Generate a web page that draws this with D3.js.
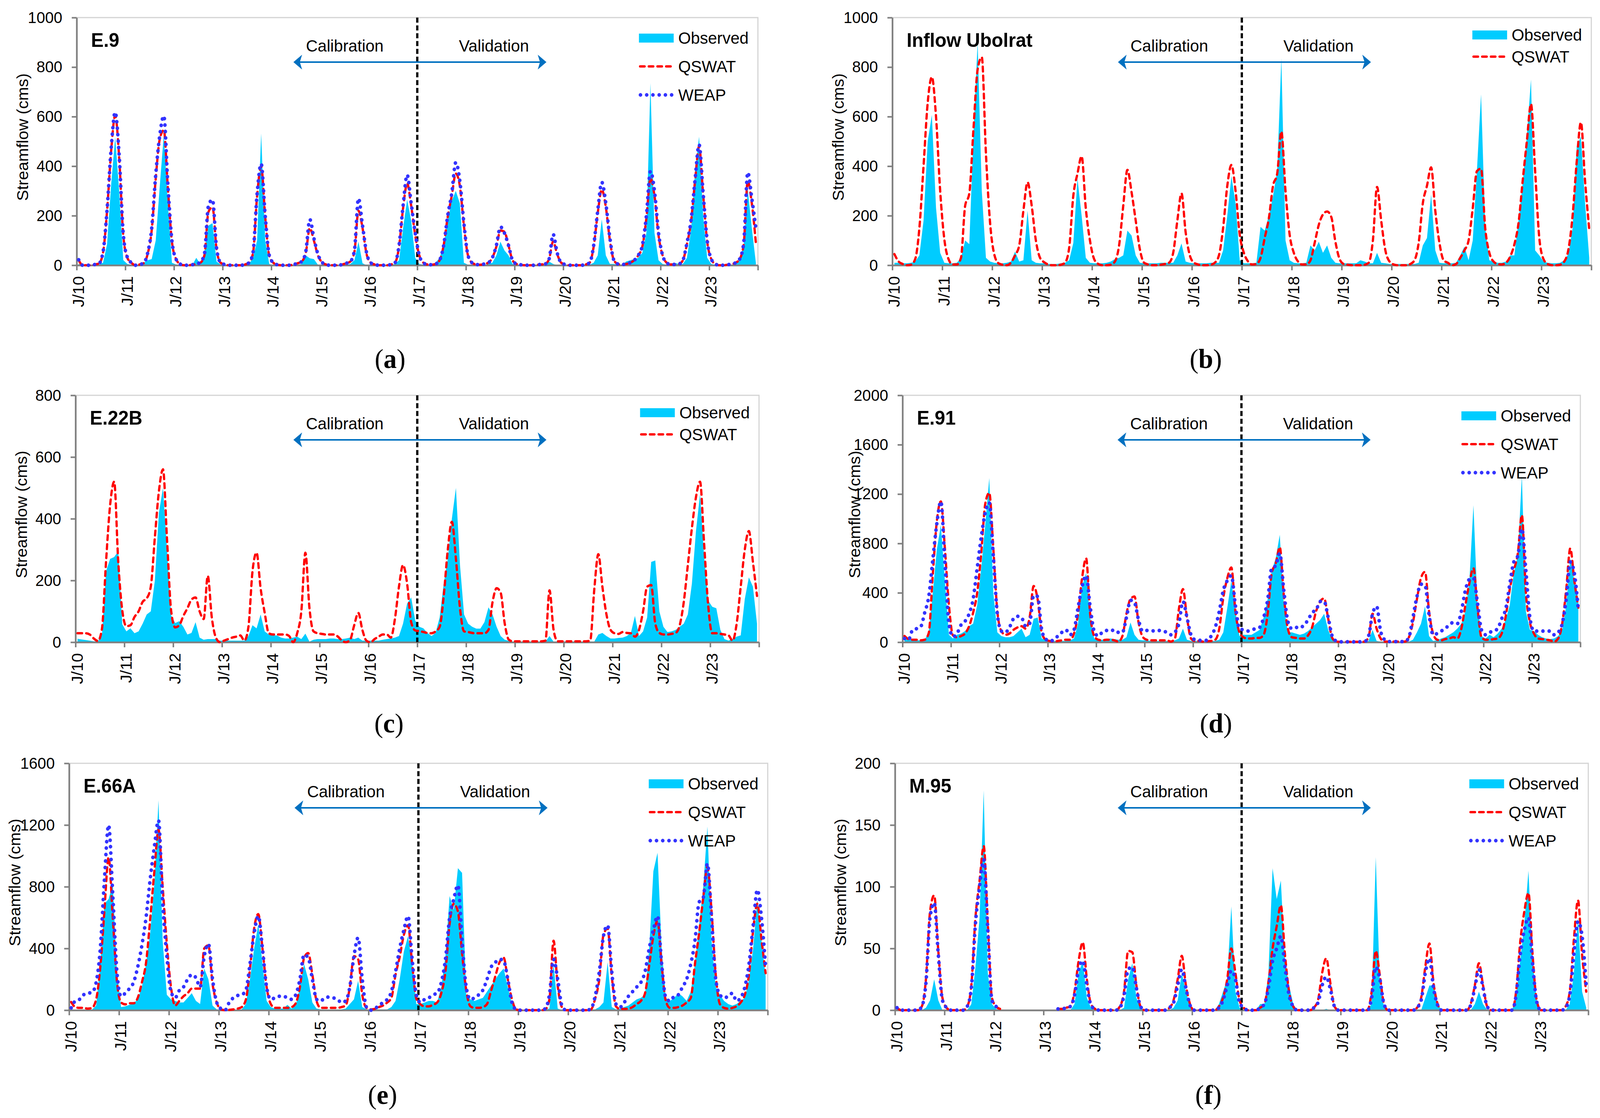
<!DOCTYPE html>
<html lang="en">
<head>
<meta charset="UTF-8">
<title>Observed vs simulated streamflow</title>
<script src="https://cdn.jsdelivr.net/npm/d3@7"></script>
<style>
  html, body { margin: 0; padding: 0; overflow: hidden; background: #fff; }
  svg { display: block; width: 100vw; height: 100vh; }
</style>
</head>
<body>
<svg id="chart" viewBox="0 0 4237 2862" preserveAspectRatio="none"></svg>
<script>
// ---- labels ----
const yearLabels = ["J/10","J/11","J/12","J/13","J/14","J/15","J/16","J/17","J/18","J/19","J/20","J/21","J/22","J/23"];
const stations = ["E.9", "Inflow Ubolrat", "E.22B", "E.91", "E.66A", "M.95"];
const subLabels = ["a", "b", "c", "d", "e", "f"];
const seriesNames = ["Observed", "QSWAT", "WEAP"];
const periodNames = ["Calibration", "Validation"];
const N = null; // months with no record (M.95, 2012-13)

// ---- monthly streamflow (cms), one row per year 2010..2023, Jan..Dec ----
const obsE9 = [
  [5,2,0,0,0,3,10,85,324,517,296,21],[5,2,0,0,10,20,25,100,320,530,250,10],
  [3,0,0,0,0,30,5,50,160,170,15,3],[0,0,0,0,0,2,5,30,100,532,100,5],
  [0,0,0,0,0,0,2,5,40,28,25,2],[0,0,0,0,0,0,2,5,20,95,8,0],
  [0,0,0,0,0,2,5,20,150,265,180,30],[5,2,0,0,10,30,80,180,260,300,250,10],
  [2,0,0,0,0,5,10,40,95,60,40,5],[0,0,0,0,0,0,2,5,15,5,0,0],
  [0,0,0,0,0,0,2,10,40,185,40,5],[5,2,2,15,20,25,30,50,130,735,130,20],
  [5,2,0,10,5,5,30,140,380,519,200,30],[5,2,0,0,0,2,5,20,80,305,150,10]];
const qswatE9 = [
  [20,0,0,0,3,7,50,220,460,605,430,120],[30,10,0,3,8,45,140,350,510,545,310,95],
  [25,5,0,0,2,5,10,40,215,235,65,10],[3,0,0,0,0,3,10,50,280,400,195,38],
  [10,2,0,0,0,3,8,15,50,150,100,40],[12,3,0,0,0,3,8,15,55,220,150,45],
  [10,3,0,0,0,3,10,75,230,330,240,120],[40,10,3,2,5,20,80,195,280,370,320,160],
  [40,10,3,2,5,10,30,75,140,135,80,20],[5,2,0,0,0,2,3,5,25,95,45,10],
  [3,0,0,0,0,3,10,75,210,305,235,100],[20,5,3,5,10,20,40,75,190,350,280,120],
  [40,10,3,3,5,20,85,175,340,480,285,95],[25,5,0,0,2,5,10,25,85,340,250,90]];
const weapE9 = [
  [22,0,0,0,3,7,53,225,470,618,440,127],[32,10,0,3,8,49,148,366,525,603,324,99],
  [25,5,0,0,2,5,12,45,240,265,70,10],[3,0,0,0,0,3,10,53,289,410,200,40],
  [10,2,0,0,0,3,8,15,55,185,110,45],[12,3,0,0,0,3,8,15,60,270,160,50],
  [10,3,0,0,0,3,10,80,240,365,250,130],[40,10,3,2,5,20,80,200,290,415,340,170],
  [40,10,3,2,5,10,30,80,155,130,80,20],[5,2,0,0,0,2,3,5,25,125,50,10],
  [3,0,0,0,0,3,10,80,220,335,250,110],[20,5,3,5,10,20,40,80,200,380,300,130],
  [40,10,3,3,5,20,90,180,345,487,290,100],[25,5,0,0,2,5,10,25,90,375,270,150]];

const obsUbolrat = [
  [10,10,8,8,10,15,40,180,500,607,232,50],[10,8,8,10,30,100,85,530,900,300,30,15],
  [10,8,8,10,15,55,15,20,220,20,10,8],[8,5,5,5,8,10,20,90,350,200,30,10],
  [8,8,8,10,15,25,30,40,140,120,40,10],[8,8,8,8,10,10,10,10,40,88,15,10],
  [8,8,8,8,10,10,10,60,200,360,250,20],[8,8,8,10,155,140,200,280,380,835,100,20],
  [10,8,8,10,80,60,95,50,80,30,10,8],[8,8,8,8,20,15,8,8,50,10,8,5],
  [5,5,5,5,5,5,10,80,110,285,60,10],[8,8,8,10,40,75,20,100,380,690,150,20],
  [15,10,10,15,40,40,180,330,520,750,60,40],[15,10,8,8,10,20,45,150,480,520,250,30]];
const qswatUbolrat = [
  [45,15,5,0,2,25,150,400,656,760,600,300],[105,25,3,3,30,240,290,550,790,840,450,170],
  [44,8,2,0,10,40,80,220,335,240,100,30],[12,3,0,0,2,10,70,281,370,440,230,100],
  [25,5,0,0,2,15,80,240,385,295,180,64],[10,3,0,0,2,5,10,50,180,290,133,40],
  [10,3,0,0,2,10,40,150,320,405,300,123],[50,15,3,5,30,110,190,321,370,540,300,123],
  [50,15,3,3,20,90,163,205,217,195,94,25],[5,2,0,0,0,2,10,100,316,180,60,15],
  [3,0,0,0,5,20,90,250,321,395,220,90],[20,10,0,5,30,60,100,230,380,390,150,50],
  [15,5,3,10,35,84,170,340,500,651,380,110],[25,5,0,0,2,15,64,200,420,577,340,145]];

const obsE22B = [
  [11,9,7,5,3,3,25,230,270,276,295,58],[35,45,29,35,60,90,100,200,420,500,300,87],
  [62,68,50,25,30,65,15,8,10,10,10,5],[5,5,5,5,5,5,20,55,45,90,35,25],
  [22,22,15,12,12,15,18,10,28,2,8,10],[10,10,12,12,10,10,12,15,10,15,5,5],
  [5,5,5,8,10,12,15,20,60,125,145,70],[50,45,30,20,30,80,190,270,400,500,250,90],
  [60,50,44,44,65,113,90,50,20,8,4,2],[2,2,2,2,2,2,2,2,20,2,2,2],
  [2,2,2,2,2,2,2,2,25,30,20,12],[12,14,15,20,30,85,20,35,80,260,265,100],
  [50,33,35,40,50,60,90,190,360,480,280,135],[115,110,40,10,5,10,18,22,140,210,180,60]];
const qswatE22B = [
  [29,29,29,25,12,4,44,261,444,520,261,102],[52,55,82,100,131,142,180,340,490,560,330,102],
  [48,55,85,110,138,145,100,75,215,80,15,0],[5,10,15,18,22,5,50,230,290,174,95,29],
  [25,25,25,25,20,0,30,100,290,110,35,29],[27,25,25,25,18,5,0,8,55,95,40,5],
  [0,10,18,25,25,15,75,180,250,190,65,38],[36,33,30,29,35,50,150,300,390,270,110,35],
  [33,30,29,29,29,40,130,175,160,60,8,3],[3,3,3,3,3,3,3,5,168,40,3,3],
  [3,3,3,3,3,3,5,170,285,180,90,40],[29,27,33,30,29,18,40,100,180,185,60,30],
  [25,25,27,30,55,130,250,370,470,520,320,120],[29,29,27,25,22,5,60,180,300,360,260,150]];

const obsE91 = [
  [40,30,20,15,15,20,80,400,750,950,500,60],[30,60,70,90,130,150,300,600,950,1330,400,80],
  [50,40,40,50,80,110,40,60,190,200,30,20],[15,10,10,10,10,15,30,150,450,560,200,30],
  [20,20,25,30,25,20,20,40,160,60,20,15],[15,10,10,10,10,10,10,15,30,110,20,10],
  [10,10,10,10,10,10,20,80,280,500,250,50],[60,60,60,80,100,200,350,580,680,870,300,80],
  [80,70,60,70,90,120,150,180,230,100,20,5],[5,5,5,5,5,5,5,10,100,10,5,5],
  [5,5,5,5,5,5,20,80,150,290,50,10],[15,30,40,60,80,110,150,250,500,1110,300,50],
  [30,60,40,70,110,180,300,560,700,1350,250,100],[90,60,40,30,25,30,50,100,300,680,500,350]];
const qswatE91 = [
  [50,25,20,20,15,20,75,550,980,1140,760,300],[55,40,50,70,130,240,400,720,1120,1210,760,250],
  [90,60,70,100,120,130,110,200,455,345,80,20],[10,5,10,15,20,20,70,230,520,680,230,50],
  [20,15,20,20,15,5,50,230,350,370,160,45],[20,15,15,15,15,15,5,30,270,430,200,30],
  [10,10,5,8,10,20,110,360,520,605,254,80],[40,30,30,35,35,60,230,560,640,770,380,110],
  [40,35,30,30,55,120,250,330,355,190,35,5],[3,3,3,3,3,3,5,40,230,110,30,5],
  [5,5,5,5,5,40,160,350,520,570,250,70],[20,15,25,30,40,30,110,300,480,600,280,40],
  [20,20,25,30,70,210,430,580,720,1030,400,160],[70,30,25,20,15,5,30,150,430,760,500,280]];
const weapE91 = [
  [30,20,100,110,125,240,370,670,960,1140,650,150],[45,70,140,170,230,350,600,850,1050,1130,700,230],
  [90,80,120,190,210,200,130,150,380,370,100,25],[10,20,50,80,100,60,100,280,450,540,290,90],
  [50,80,95,90,100,80,80,200,340,320,180,90],[95,95,90,95,90,80,60,80,150,330,200,60],
  [20,15,15,15,50,120,250,420,500,540,300,110],[100,90,100,110,120,200,345,600,620,720,420,170],
  [110,120,115,140,180,240,260,330,330,200,50,10],[3,3,3,3,3,3,5,50,230,290,90,20],
  [5,5,5,5,5,40,200,370,470,460,220,60],[70,90,110,140,160,150,250,420,510,520,320,100],
  [60,80,90,110,190,270,470,650,700,920,580,200],[90,90,90,90,90,60,80,150,350,650,560,260]];

const obsE66A = [
  [3,2,2,2,2,3,30,300,690,720,820,250],[20,25,35,45,70,150,300,500,820,1360,450,100],
  [70,60,50,50,80,110,60,40,270,200,30,5],[2,2,2,2,2,5,40,200,400,560,300,60],
  [20,10,10,10,35,10,30,150,300,200,50,10],[5,3,3,3,3,5,10,40,70,190,20,5],
  [5,5,5,5,5,20,60,200,380,480,300,40],[40,50,60,60,50,150,350,740,650,920,890,100],
  [70,60,70,80,120,160,200,240,270,150,40,5],[2,2,2,2,2,2,2,10,300,10,2,2],
  [2,2,2,2,2,2,5,20,50,310,20,5],[10,20,30,50,70,80,100,400,900,1020,400,80],
  [60,80,110,90,60,120,300,550,800,1190,450,150],[100,60,40,30,40,60,80,200,400,720,450,220]];
const qswatE66A = [
  [53,20,15,15,10,15,70,280,650,990,600,190],[50,38,45,45,80,180,308,590,900,1170,800,430],
  [150,30,60,90,110,140,140,140,400,420,170,50],[5,0,2,5,10,20,68,270,530,623,400,150],
  [40,15,15,15,15,20,45,150,338,370,230,60],[15,15,15,15,15,20,30,150,350,330,100,15],
  [5,8,20,30,50,80,230,345,488,550,300,75],[38,25,25,35,50,110,250,560,690,640,370,130],
  [25,15,15,20,40,128,220,310,340,200,70,5],[0,0,0,0,0,0,5,70,450,158,20,0],
  [0,0,0,0,0,5,75,200,488,530,220,25],[8,8,10,20,40,60,110,290,480,580,290,60],
  [15,15,20,30,50,80,300,500,730,930,640,230],[40,15,10,15,25,50,100,233,520,690,460,240]];
const weapE66A = [
  [15,60,70,100,110,115,180,400,850,1200,750,250],[90,110,140,180,280,420,600,850,1060,1230,700,350],
  [120,80,128,150,200,230,210,150,350,430,200,50],[10,0,50,80,95,100,130,300,500,610,400,150],
  [70,80,90,90,80,70,100,200,360,340,200,70],[60,80,85,80,70,50,60,150,350,470,200,20],
  [0,10,30,50,70,120,250,400,520,610,330,100],[50,70,80,100,110,180,330,600,720,810,450,150],
  [70,80,100,130,200,280,310,330,320,200,50,5],[0,0,0,0,0,0,10,100,330,200,30,0],
  [0,0,0,0,0,10,90,250,480,550,250,40],[20,50,90,120,150,180,250,400,520,610,300,80],
  [60,90,100,150,200,300,450,700,730,950,600,200],[100,80,90,110,60,80,150,300,550,780,600,280]];

const obsM95 = [
  [0,0,0,0,0,0,0,2,8,25,8,0],[0,0,0,0,0,0,5,35,75,178,30,5],
  [1,0,N,N,N,N,N,N,N,N,N,N],[N,N,N,0,0,0,0,5,30,40,10,2],
  [0,0,0,0,0,0,0,2,25,38,10,2],[0,0,0,0,0,0,0,2,8,30,15,3],
  [0,0,0,0,0,0,5,15,25,84,15,2],[0,0,0,0,5,5,30,115,90,105,40,20],
  [5,0,0,0,0,0,0,0,1,0,0,0],[0,0,0,0,0,0,0,5,124,20,3,0],
  [0,0,0,0,0,0,0,0,10,20,20,5],[0,0,0,0,0,0,0,0,5,15,5,0],
  [0,0,0,0,0,0,10,40,70,113,40,8],[0,0,0,0,0,0,0,5,30,75,15,2]];
const qswatM95 = [
  [2,0,0,0,0,0,3,25,80,93,48,10],[2,0,0,0,0,3,20,75,105,133,70,10],
  [3,1,N,N,N,N,N,N,N,N,N,N],[N,N,N,1,1,2,3,15,40,55,25,5],
  [1,0,0,0,0,0,3,15,48,47,20,3],[0,0,0,0,0,0,2,8,25,44,20,5],
  [0,0,0,0,0,0,3,10,25,50,30,8],[2,0,0,0,2,5,23,50,68,85,45,15],
  [3,0,0,0,0,2,8,30,42,22,3,0],[0,0,0,0,0,0,0,15,48,28,5,0],
  [0,0,0,0,0,0,2,10,35,54,22,5],[0,0,0,0,0,0,0,5,20,38,20,3],
  [0,0,0,0,0,0,15,55,80,95,45,8],[0,0,0,0,0,0,3,15,57,89,45,15]];
const weapM95 = [
  [2,0,0,0,0,0,3,22,75,87,45,8],[2,0,0,0,0,3,18,70,100,122,65,8],
  [3,1,N,N,N,N,N,N,N,N,N,N],[N,N,N,1,1,2,3,12,33,40,20,4],
  [1,0,0,0,0,0,2,12,33,35,18,3],[0,0,0,0,0,0,2,6,20,33,18,4],
  [0,0,0,0,0,0,2,8,20,32,25,6],[2,0,0,0,2,5,18,40,50,60,35,12],
  [3,0,0,0,0,2,6,20,27,17,3,0],[0,0,0,0,0,0,0,10,35,25,5,0],
  [0,0,0,0,0,0,2,8,30,42,18,4],[0,0,0,0,0,0,0,4,18,33,18,3],
  [0,0,0,0,0,0,12,45,65,75,38,7],[0,0,0,0,0,0,2,12,45,72,60,20]];

// ---- panel layout ----
const panels = [
  {name: stations[0], sub: subLabels[0], obs: obsE9, qswat: qswatE9, weap: weapE9,
   yMax: 1000, yStep: 200, left: 203, right: 2007, top: 45, bottom: 679, subY: 942, titleDx: 129},
  {name: stations[1], sub: subLabels[1], obs: obsUbolrat, qswat: qswatUbolrat, weap: null,
   yMax: 1000, yStep: 200, left: 2363, right: 4214, top: 45, bottom: 679, subY: 942, titleDx: 129},
  {name: stations[2], sub: subLabels[2], obs: obsE22B, qswat: qswatE22B, weap: null,
   yMax: 800, yStep: 200, left: 200, right: 2010, top: 1012, bottom: 1644, subY: 1875, titleDx: 129},
  {name: stations[3], sub: subLabels[3], obs: obsE91, qswat: qswatE91, weap: weapE91,
   yMax: 2000, yStep: 400, left: 2390, right: 4185, top: 1012, bottom: 1644, subY: 1875, titleDx: 112},
  {name: stations[4], sub: subLabels[4], obs: obsE66A, qswat: qswatE66A, weap: weapE66A,
   yMax: 1600, yStep: 400, left: 183, right: 2033, top: 1954, bottom: 2586, subY: 2826, titleDx: 129},
  {name: stations[5], sub: subLabels[5], obs: obsM95, qswat: qswatM95, weap: weapM95,
   yMax: 200, yStep: 50, left: 2370, right: 4206, top: 1954, bottom: 2586, subY: 2826, titleDx: 129}
];

const SANS = "'Liberation Sans', Arial, sans-serif";
const SERIF = "'Liberation Serif', 'Times New Roman', serif";
const AXIS_GREY = "#808080";
const OBS_FILL = "#00ccff";
const QSWAT_RED = "#ff0000";
const WEAP_BLUE = "#3333ff";
const ARROW_BLUE = "#0070c0";

const svg = d3.select("#chart");
svg.append("rect").attr("width", 4237).attr("height", 2862).attr("fill", "#fff");

function styleQswat(sel) {
  return sel.attr("fill", "none").attr("stroke", QSWAT_RED).attr("stroke-width", 6)
    .attr("stroke-linecap", "round").attr("stroke-dasharray", "12,11");
}
function styleWeap(sel) {
  return sel.attr("fill", "none").attr("stroke", WEAP_BLUE).attr("stroke-width", 9.5)
    .attr("stroke-linecap", "round").attr("stroke-dasharray", "0.1,16.4");
}

panels.forEach(p => {
  const g = svg.append("g");
  const x = d3.scaleLinear().domain([0, 168]).range([p.left, p.right]);
  const y = d3.scaleLinear().domain([0, p.yMax]).range([p.bottom, p.top]);
  const pts = rows => rows.flat().map((v, i) => ({i, v}));

  // light frame on top and right
  g.append("path")
    .attr("d", `M${p.left},${p.top}H${p.right}V${p.bottom}`)
    .attr("fill", "none").attr("stroke", "#d4d4d4").attr("stroke-width", 3);

  // observed area
  const area = d3.area()
    .defined(d => d.v != null)
    .x(d => x(d.i + 0.5))
    .y0(y(0))
    .y1(d => y(d.v));
  g.append("path").datum(pts(p.obs)).attr("d", area).attr("fill", OBS_FILL);

  // axes
  const yAxis = d3.axisLeft(y)
    .tickValues(d3.range(0, p.yMax + 1, p.yStep))
    .tickFormat(d3.format("d"))
    .tickSize(13).tickSizeOuter(0).tickPadding(25);
  const gy = g.append("g").attr("transform", `translate(${p.left},0)`).call(yAxis);

  const xAxis = d3.axisBottom(x)
    .tickValues(d3.range(0, 169, 12))
    .tickFormat((d, i) => yearLabels[i] || "")
    .tickSize(13).tickSizeOuter(0);
  const gx = g.append("g").attr("transform", `translate(0,${p.bottom})`).call(xAxis);
  gx.selectAll("text")
    .attr("transform", "rotate(-90)")
    .attr("text-anchor", "end")
    .attr("x", -28).attr("y", 0).attr("dy", "0.45em")
    .attr("font-size", 42);

  [gx, gy].forEach(a => {
    a.select(".domain").attr("stroke", AXIS_GREY).attr("stroke-width", 4.5);
    a.selectAll(".tick line").attr("stroke", AXIS_GREY).attr("stroke-width", 4);
    a.selectAll("text").attr("font-family", SANS).attr("fill", "#000");
  });
  gy.selectAll("text").attr("font-size", 41);

  // calibration / validation divider
  const xs = x(84);
  g.append("line")
    .attr("x1", xs).attr("x2", xs).attr("y1", p.top).attr("y2", p.bottom)
    .attr("stroke", "#000").attr("stroke-width", 6).attr("stroke-dasharray", "13,7");

  // model lines
  const line = d3.line()
    .defined(d => d.v != null)
    .x(d => x(d.i + 0.5))
    .y(d => y(d.v))
    .curve(d3.curveMonotoneX);
  g.append("path").datum(pts(p.qswat)).attr("d", line).call(styleQswat);
  if (p.weap) g.append("path").datum(pts(p.weap)).attr("d", line).call(styleWeap);

  // period arrow (stealth heads) and labels
  const ay = p.top + 114;
  const ax0 = xs - 328, ax1 = xs + 342;
  g.append("line").attr("x1", ax0 + 15).attr("x2", ax1 - 15).attr("y1", ay).attr("y2", ay)
    .attr("stroke", ARROW_BLUE).attr("stroke-width", 4);
  g.append("path")
    .attr("d", `M${ax0},${ay}L${ax0 + 23},${ay - 19}L${ax0 + 17},${ay}L${ax0 + 23},${ay + 19}Z` +
               `M${ax1},${ay}L${ax1 - 23},${ay - 19}L${ax1 - 17},${ay}L${ax1 - 23},${ay + 19}Z`)
    .attr("fill", ARROW_BLUE);
  g.append("text").attr("x", xs - 192).attr("y", p.top + 87).attr("text-anchor", "middle")
    .attr("font-family", SANS).attr("font-size", 43).text(periodNames[0]);
  g.append("text").attr("x", xs + 203).attr("y", p.top + 87).attr("text-anchor", "middle")
    .attr("font-family", SANS).attr("font-size", 43).text(periodNames[1]);

  // station name
  g.append("text").attr("x", p.left + 38).attr("y", p.top + 75)
    .attr("font-family", SANS).attr("font-size", 50).attr("font-weight", "bold")
    .text(p.name);

  // y axis title
  g.append("text")
    .attr("transform", `translate(${p.left - p.titleDx},${(p.top + p.bottom) / 2 - 11}) rotate(-90)`)
    .attr("text-anchor", "middle")
    .attr("font-family", SANS).attr("font-size", 42)
    .text("Streamflow (cms)");

  // legend
  const three = !!p.weap;
  const row0 = p.top + (three ? 52 : 44), gap = three ? 73 : 56;
  const lx = p.right - 315, tx = p.right - 211;
  const leg = g.append("g").attr("font-family", SANS).attr("font-size", 43);
  leg.append("rect").attr("x", lx).attr("y", row0 - 11).attr("width", 92).attr("height", 23)
    .attr("fill", OBS_FILL);
  leg.append("text").attr("x", tx).attr("y", row0 + 15).text(seriesNames[0]);
  leg.append("line").attr("x1", lx + 3).attr("x2", lx + 91).attr("y1", row0 + gap).attr("y2", row0 + gap)
    .call(styleQswat);
  leg.append("text").attr("x", tx).attr("y", row0 + gap + 15).text(seriesNames[1]);
  if (three) {
    leg.append("line").attr("x1", lx + 4).attr("x2", lx + 88).attr("y1", row0 + 2 * gap).attr("y2", row0 + 2 * gap)
      .call(styleWeap);
    leg.append("text").attr("x", tx).attr("y", row0 + 2 * gap + 15).text(seriesNames[2]);
  }

  // panel letter
  const sl = g.append("text").attr("x", p.left + 830).attr("y", p.subY)
    .attr("text-anchor", "middle").attr("font-family", SERIF).attr("font-size", 70);
  sl.append("tspan").text("(");
  sl.append("tspan").attr("font-weight", "bold").text(p.sub);
  sl.append("tspan").text(")");
});
</script>
</body>
</html>
